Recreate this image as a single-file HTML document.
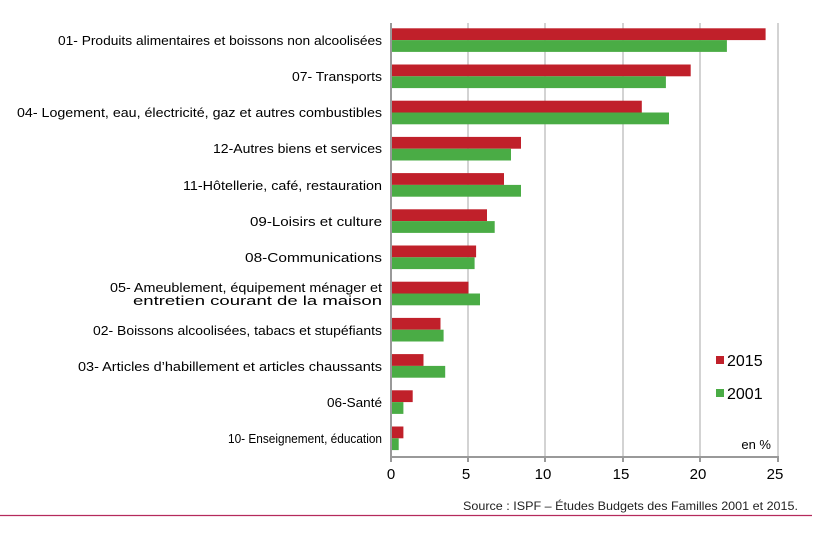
<!DOCTYPE html>
<html><head><meta charset="utf-8"><style>html,body{margin:0;padding:0;background:#fff}svg{display:block}</style></head><body>
<svg width="834" height="538" xmlns="http://www.w3.org/2000/svg" font-family="Liberation Sans, DejaVu Sans, sans-serif">
<g stroke="#d3d3d3" stroke-width="2">
<line x1="468" y1="23" x2="468" y2="457"/><line x1="545" y1="23" x2="545" y2="457"/><line x1="623" y1="23" x2="623" y2="457"/><line x1="700" y1="23" x2="700" y2="457"/><line x1="778" y1="23" x2="778" y2="457"/>
</g>
<g fill="#c0202a">
<rect x="391" y="28.3" width="374.6" height="11.8"/>
<rect x="391" y="64.5" width="299.7" height="11.8"/>
<rect x="391" y="100.7" width="250.8" height="11.8"/>
<rect x="391" y="136.9" width="130.0" height="11.8"/>
<rect x="391" y="173.1" width="113.0" height="11.8"/>
<rect x="391" y="209.3" width="96.0" height="11.8"/>
<rect x="391" y="245.5" width="85.1" height="11.8"/>
<rect x="391" y="281.7" width="77.4" height="11.8"/>
<rect x="391" y="317.9" width="49.5" height="11.8"/>
<rect x="391" y="354.1" width="32.5" height="11.8"/>
<rect x="391" y="390.3" width="21.7" height="11.8"/>
<rect x="391" y="426.5" width="12.4" height="11.8"/>
</g>
<g fill="#4aac45">
<rect x="391" y="40.1" width="335.9" height="11.8"/>
<rect x="391" y="76.3" width="274.9" height="11.8"/>
<rect x="391" y="112.5" width="278.0" height="11.8"/>
<rect x="391" y="148.7" width="120.0" height="11.8"/>
<rect x="391" y="184.9" width="130.0" height="11.8"/>
<rect x="391" y="221.1" width="103.7" height="11.8"/>
<rect x="391" y="257.3" width="83.6" height="11.8"/>
<rect x="391" y="293.5" width="89.0" height="11.8"/>
<rect x="391" y="329.7" width="52.6" height="11.8"/>
<rect x="391" y="365.9" width="54.2" height="11.8"/>
<rect x="391" y="402.1" width="12.4" height="11.8"/>
<rect x="391" y="438.3" width="7.7" height="11.8"/>
</g>
<line x1="391" y1="23" x2="391" y2="458" stroke="#999" stroke-width="2"/>
<line x1="390" y1="457" x2="779" y2="457" stroke="#999" stroke-width="2"/>
<g stroke="#999" stroke-width="2"><line x1="468" y1="457" x2="468" y2="462"/><line x1="545" y1="457" x2="545" y2="462"/><line x1="623" y1="457" x2="623" y2="462"/><line x1="700" y1="457" x2="700" y2="462"/><line x1="778" y1="457" x2="778" y2="462"/><line x1="391" y1="457" x2="391" y2="462"/></g>
<g font-size="15" fill="#000" text-anchor="middle">
<text x="391" y="479">0</text><text x="466" y="479">5</text><text x="543" y="479">10</text><text x="621" y="479">15</text><text x="698" y="479">20</text><text x="775" y="479">25</text>
</g>
<g font-size="13" fill="#000">
<text x="58" y="45" textLength="324" lengthAdjust="spacingAndGlyphs">01- Produits  alimentaires  et boissons  non alcoolisées</text>
<text x="292" y="81" textLength="90" lengthAdjust="spacingAndGlyphs">07- Transports</text>
<text x="17" y="117" textLength="365" lengthAdjust="spacingAndGlyphs">04- Logement,  eau, électricité,  gaz et autres  combustibles</text>
<text x="213" y="153" textLength="169" lengthAdjust="spacingAndGlyphs">12-Autres biens et services</text>
<text x="183" y="190" textLength="199" lengthAdjust="spacingAndGlyphs">11-Hôtellerie,  café, restauration</text>
<text x="250" y="226" textLength="132" lengthAdjust="spacingAndGlyphs">09-Loisirs et culture</text>
<text x="245" y="262" textLength="137" lengthAdjust="spacingAndGlyphs">08-Communications</text>
<text x="110" y="292" textLength="272" lengthAdjust="spacingAndGlyphs">05- Ameublement,  équipement  ménager et</text>
<text x="133" y="305" textLength="249" lengthAdjust="spacingAndGlyphs">entretien  courant de la maison</text>
<text x="93" y="335" textLength="289" lengthAdjust="spacingAndGlyphs">02- Boissons alcoolisées,  tabacs et stupéfiants</text>
<text x="78" y="371" textLength="304" lengthAdjust="spacingAndGlyphs">03- Articles d’habillement  et articles  chaussants</text>
<text x="327" y="407" textLength="55" lengthAdjust="spacingAndGlyphs">06-Santé</text>
<text x="228" y="443" textLength="154" lengthAdjust="spacingAndGlyphs">10- Enseignement,  éducation</text>
</g>
<rect x="716" y="356" width="8" height="8" fill="#c0202a"/>
<text x="727" y="366" font-size="16" fill="#000">2015</text>
<rect x="716" y="389" width="8" height="8" fill="#4aac45"/>
<text x="727" y="399" font-size="16" fill="#000">2001</text>
<text x="771" y="449" font-size="13" text-anchor="end" fill="#000">en %</text>
<text x="463" y="510" font-size="12" fill="#222" textLength="335" lengthAdjust="spacingAndGlyphs">Source : ISPF – Études Budgets des Familles 2001 et 2015.</text>
<line x1="0" y1="515.5" x2="812" y2="515.5" stroke="#b52a5c" stroke-width="1.2"/>
</svg>
</body></html>
